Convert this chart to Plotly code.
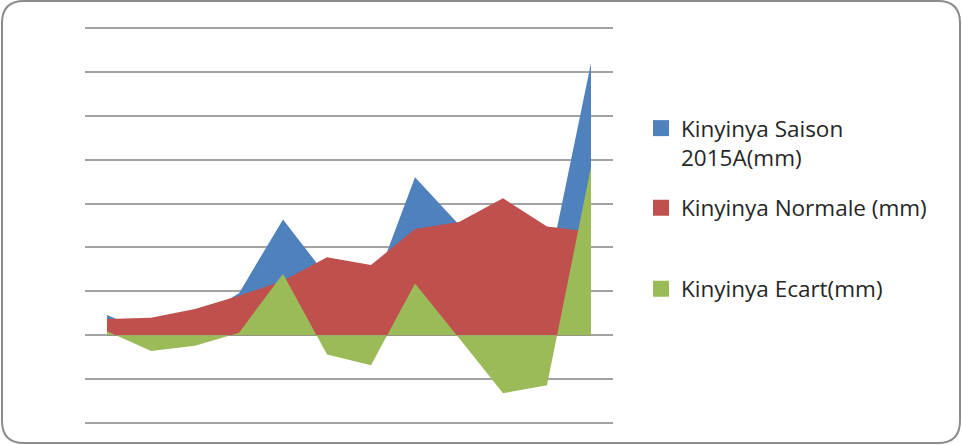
import plotly.graph_objects as go

# ---- data (mm) ----
categories = list(range(12))
saison_2015a = [23, 2, 18, 48, 132, 67, 46, 180, 126, 90, 67, 310]
normale = [18.5, 20, 30, 45, 62, 89, 80, 121, 129, 156, 124, 118]
ecart = [4.5, -18, -12, 3, 70, -22, -34, 59, -3, -66, -57, 192]

names = ["Kinyinya Saison<br>2015A(mm)", "Kinyinya Normale (mm)", "Kinyinya Ecart(mm)"]
colors = ["#4F81BD", "#C0504D", "#9BBB59"]
series = [saison_2015a, normale, ecart]

W, H = 962, 445
fig = go.Figure()

for vals, col in zip(series, colors):
    fig.add_trace(go.Scatter(
        x=categories, y=vals, mode="lines", fill="tozeroy",
        line=dict(width=0, color=col), fillcolor=col,
        showlegend=False, hoverinfo="skip"))

legend_names = ["legend", "legend2", "legend3"]
for nm, col, lg in zip(names, colors, legend_names):
    fig.add_trace(go.Scatter(
        x=[None], y=[None], mode="markers", name=nm, legend=lg,
        marker=dict(symbol="square", size=16, color=col)))

font = dict(family="Open Sans, Noto Sans, sans-serif", size=22.5, color="#262626")

def px_x(p):
    return p / W

def px_y(p):
    return 1 - p / H

# y scale: zero at 335.3 px, 0.8782 px per mm
Y0, K = 335.3, 0.8782
ymin, ymax = -105, 355

leg_common = dict(font=font, bgcolor="rgba(0,0,0,0)", borderwidth=0,
                  xanchor="left", yanchor="middle", valign="top",
                  itemclick=False, itemdoubleclick=False)

fig.update_layout(
    width=W, height=H,
    margin=dict(l=0, r=0, t=0, b=0),
    paper_bgcolor="white", plot_bgcolor="white",
    xaxis=dict(domain=[px_x(85), px_x(613)], range=[-0.5, 11.5],
               showgrid=False, zeroline=False, showticklabels=False,
               ticks="", showline=False, fixedrange=True),
    yaxis=dict(domain=[px_y(Y0 - ymin * K), px_y(Y0 - ymax * K)],
               range=[ymin, ymax], tick0=0, dtick=50,
               showgrid=True, gridcolor="#A3A3A3", gridwidth=1.6,
               zeroline=False, showticklabels=False, ticks="",
               showline=False, fixedrange=True),
    legend=dict(x=px_x(641), y=px_y(143), **leg_common),
    legend2=dict(x=px_x(641), y=px_y(208), **leg_common),
    legend3=dict(x=px_x(641), y=px_y(289), **leg_common),
)

# rounded chart border
x0, x1 = px_x(2), px_x(960)
y0, y1 = px_y(443), px_y(1)
rx, ry = 22 / W, 22 / H
path = (f"M {x0+rx},{y1} L {x1-rx},{y1} Q {x1},{y1} {x1},{y1-ry} "
        f"L {x1},{y0+ry} Q {x1},{y0} {x1-rx},{y0} L {x0+rx},{y0} "
        f"Q {x0},{y0} {x0},{y0+ry} L {x0},{y1-ry} Q {x0},{y1} {x0+rx},{y1} Z")
fig.add_shape(type="path", path=path, xref="paper", yref="paper",
              line=dict(color="#8C8C8C", width=2), layer="above")

fig.write_html("out.html",
               config={"displayModeBar": False},
               post_script="document.body.style.margin='0';document.body.style.overflow='hidden';")
